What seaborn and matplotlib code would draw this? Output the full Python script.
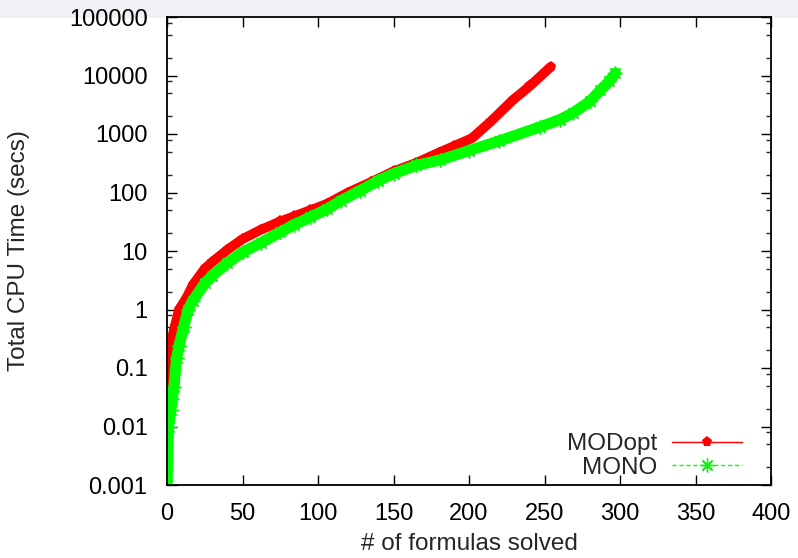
import matplotlib
matplotlib.use("Agg")
import matplotlib.pyplot as plt
import matplotlib.patches as mpatches
from matplotlib.ticker import FixedLocator, FixedFormatter, LogLocator, NullFormatter, NullLocator
import seaborn as sns
import pandas as pd

# ---- data ----
modopt_x = [0, 1, 2, 3, 5, 8, 13, 17, 25, 30, 40, 50, 62, 75, 84, 95, 106, 120,
            135, 150, 165, 180, 190, 202, 214, 229, 240, 254]
modopt_y = [0.001, 0.1, 0.2, 0.3, 0.5, 1.0, 1.6, 2.6, 5.0, 6.5, 10.5, 16, 23, 32,
            39, 50, 64, 100, 150, 230, 320, 480, 620, 850, 1600, 3800, 6500, 14000]

mono_x = [0, 1, 2.5, 3.5, 4.6, 6.4, 8, 11, 14, 17, 25, 30, 40, 50, 62, 75, 84, 95,
          106, 115, 128, 140, 150, 165, 181, 200, 220, 247, 260, 269, 280, 287, 293, 297]
mono_y = [0.001, 0.01, 0.019, 0.03, 0.048, 0.15, 0.24, 0.5, 1.0, 1.4, 2.8, 3.8, 6.2,
          9.5, 13.7, 21, 28, 38, 52, 72, 108, 160, 210, 290, 360, 520, 760, 1320,
          1750, 2300, 3600, 5600, 8000, 11000]

series_names = ["MODopt", "MONO"]
x_ticks = [0, 50, 100, 150, 200, 250, 300, 350, 400]
y_ticks = [0.001, 0.01, 0.1, 1, 10, 100, 1000, 10000, 100000]
y_tick_labels = ["0.001", "0.01", "0.1", "1", "10", "100", "1000", "10000", "100000"]

df_mod = pd.DataFrame({"x": modopt_x, "y": modopt_y})
df_mono = pd.DataFrame({"x": mono_x, "y": mono_y})

sns.set_style("ticks")
plt.rcParams["font.family"] = ["Liberation Sans", "DejaVu Sans"]

W, H = 798, 558
fig = plt.figure(figsize=(W / 100, H / 100), dpi=100)
fig.patch.set_facecolor("white")
# light gray strip at top (slide background)
fig.patches.append(mpatches.Rectangle((0, 1 - 18 / H), 1, 18 / H, transform=fig.transFigure,
                                      facecolor="#f1f1f5", edgecolor="none", zorder=-5))

ax = fig.add_axes([167 / W, 1 - 485 / H, (771 - 167) / W, (485 - 17) / H])
ax.set_zorder(1)

red = "#ff0000"
green = "#00ff00"

# MODopt: dense band (overlapping markers in the reference) + marked line
sns.lineplot(data=df_mod, x="x", y="y", ax=ax, color=red, linewidth=7, legend=False,
             sort=False, estimator=None, zorder=2, solid_capstyle="round")
sns.lineplot(data=df_mod, x="x", y="y", ax=ax, color=red, linewidth=1, marker="p",
             markersize=8, markeredgewidth=0, markerfacecolor=red, label=series_names[0],
             sort=False, estimator=None, zorder=3)
# MONO drawn on top
sns.lineplot(data=df_mono, x="x", y="y", ax=ax, color=green, linewidth=8, legend=False,
             sort=False, estimator=None, zorder=4, solid_capstyle="round")
sns.lineplot(data=df_mono, x="x", y="y", ax=ax, color=green, linewidth=1, linestyle=(0, (3, 2)),
             marker=(8, 2, 0), markersize=10, markeredgewidth=1, markeredgecolor=green,
             label=series_names[1], sort=False, estimator=None, zorder=5)

ax.set_yscale("log")
ax.set_xlim(0, 400)
ax.set_ylim(0.001, 100000)

ax.xaxis.set_major_locator(FixedLocator(x_ticks))
ax.xaxis.set_minor_locator(NullLocator())
ax.yaxis.set_major_locator(FixedLocator(y_ticks))
ax.yaxis.set_major_formatter(FixedFormatter(y_tick_labels))
ax.yaxis.set_minor_locator(LogLocator(base=10, subs=[2, 5, 8], numticks=20))
ax.yaxis.set_minor_formatter(NullFormatter())

for sp in ax.spines.values():
    sp.set_visible(True)
    sp.set_color("black")
    sp.set_linewidth(1.3)
    sp.set_zorder(10)

ax.tick_params(axis="both", which="major", direction="in", length=7, width=1,
               top=True, right=True, labelsize=17, colors="black")
ax.tick_params(axis="y", which="major", pad=14)
ax.tick_params(axis="x", which="major", pad=13)
ax.tick_params(axis="y", which="minor", direction="in", length=3.5, width=1,
               left=True, right=True)

ax.set_xlabel("# of formulas solved", fontsize=17.5, labelpad=6)
ax.set_ylabel("Total CPU Time (secs)", fontsize=17.5, labelpad=28)
ax.grid(False)

leg = ax.legend(loc="center right", frameon=False, markerfirst=False, fontsize=17.5,
                handlelength=2.9, handletextpad=0.6, borderaxespad=0, borderpad=0,
                labelspacing=0.05, bbox_to_anchor=(0.952, 0.062))
leg.set_zorder(20)

fig.savefig("out.png", dpi=100)
